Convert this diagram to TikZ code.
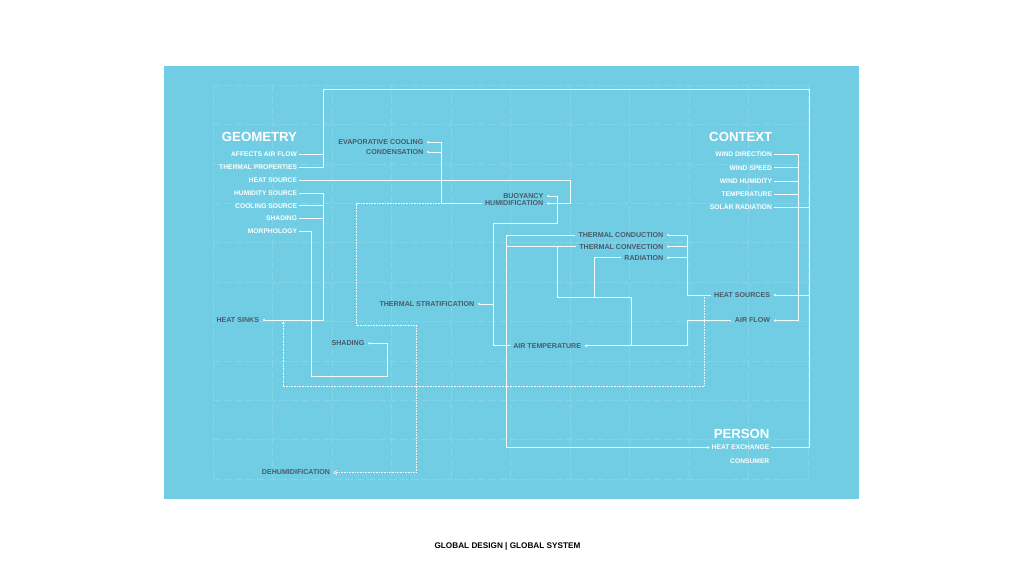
\documentclass[tikz,border=0pt]{standalone}
\usepackage{fontspec}
\setmainfont{Liberation Sans}
\usetikzlibrary{arrows.meta}
\definecolor{bgblue}{HTML}{71CDE3}
\definecolor{darktxt}{HTML}{4A5A6A}
\definecolor{linec}{HTML}{F2FBFD}
\definecolor{gridc}{HTML}{84D4E7}
\tikzset{
  wt/.style={text=white, font=\bfseries\fontsize{6.7}{7}\selectfont, inner sep=0pt, outer sep=2pt, anchor=east},
  dk/.style={text=darktxt, font=\bfseries\fontsize{7.1}{8}\selectfont, inner sep=0pt, outer sep=3.5pt, anchor=east},
  ttl/.style={text=white, font=\bfseries\fontsize{13.2}{14}\selectfont, inner sep=0pt, outer sep=0pt, anchor=east},
  ln/.style={draw=linec, line width=0.8pt},
  arr/.style={ln, -{Stealth[length=2.6pt,width=2.8pt]}},
  dotl/.style={draw=linec, line width=0.7pt, dash pattern=on 0.7pt off 0.9pt},
  gridl/.style={draw=gridc, line width=0.5pt, dash pattern=on 8pt off 3pt},
}
\begin{document}
\begin{tikzpicture}[x=1pt,y=-1pt]
\useasboundingbox (0,0) rectangle (1024,576);
\fill[white] (0,0) rectangle (1024,576);
\fill[bgblue] (164,66) rectangle (859,499);
% grid
\foreach \i in {0,...,10}{
  \draw[gridl] (213+\i*59.5,85) -- (213+\i*59.5,479);
  \draw[gridl] (213,85+\i*39.4) -- (808,85+\i*39.4);
}
% GEOMETRY
\node[ttl] (geo) at (297,137) {GEOMETRY};
\node[wt] (g1) at (299,154.3) {AFFECTS AIR FLOW};
\node[wt] (g2) at (299,167.3) {THERMAL PROPERTIES};
\node[wt] (g3) at (299,180) {HEAT SOURCE};
\node[wt] (g4) at (299,193) {HUMIDITY SOURCE};
\node[wt] (g5) at (299,205.7) {COOLING SOURCE};
\node[wt] (g6) at (299,218.3) {SHADING};
\node[wt] (g7) at (299,231.3) {MORPHOLOGY};
% CONTEXT
\node[ttl] (ctx) at (772.3,137.3) {CONTEXT};
\node[wt] (c1) at (774,154) {WIND DIRECTION};
\node[wt] (c2) at (774,167.7) {WIND SPEED};
\node[wt] (c3) at (774,181) {WIND HUMIDITY};
\node[wt] (c4) at (774,194.5) {TEMPERATURE};
\node[wt] (c5) at (774,207.3) {SOLAR RADIATION};
% PERSON
\node[ttl] (per) at (769.5,434) {PERSON};
\node[wt] (p1) at (771.3,447.5) {HEAT EXCHANGE};
\node[wt] (p2) at (771.3,461) {CONSUMER};
% dark labels
\node[dk] (evap) at (426.8,142.3) {EVAPORATIVE COOLING};
\node[dk] (cond) at (426.8,152) {CONDENSATION};
\node[dk] (buoy) at (546.8,196) {BUOYANCY};
\node[dk] (humid) at (546.8,203.5) {HUMIDIFICATION};
\node[dk] (tcond) at (666.8,235) {THERMAL CONDUCTION};
\node[dk] (tconv) at (666.8,246.7) {THERMAL CONVECTION};
\node[dk] (rad) at (666.8,257.7) {RADIATION};
\node[dk] (strat) at (477.8,304) {THERMAL STRATIFICATION};
\node[dk] (hsrc) at (773.5,295) {HEAT SOURCES};
\node[dk] (aflow) at (773.5,320.5) {AIR FLOW};
\node[dk] (airt) at (584.5,345.7) {AIR TEMPERATURE};
\node[dk] (sinks) at (262.5,320) {HEAT SINKS};
\node[dk] (shad) at (367.8,343.3) {SHADING};
\node[dk] (dehum) at (333.5,472.5) {DEHUMIDIFICATION};
% footer
\node[text=black, font=\bfseries\fontsize{8.2}{9}\selectfont, inner sep=0pt, text height=5.9pt, text depth=0pt] (foot) at (507.5,545.7) {GLOBAL DESIGN | GLOBAL SYSTEM};
% junction coordinates
\coordinate (tl) at (323,89);
\coordinate (tr) at (809,89);
\coordinate (br) at (809,447.5);
% GEOMETRY connectors
\draw[ln] (g1.east) -| (tl) -- (tr) -- (br) -- (p1.east);
\draw[ln] (g2.east) -- (323,167.3) -- (323,154.3);
\draw[arr] (g3.east) -- (570,180) |- (humid.east);
\draw[arr] (g4.east) -| (323,320) -- (sinks.east);
\draw[ln] (g5.east) -- (323,205.7);
\draw[ln] (g6.east) -- (323,218.3);
\draw[arr] (g7.east) -| (311.7,376.7) -| (387.3,343.3) -- (shad.east);
% humidification / evaporative
\draw[arr] (humid.west) -| (441.7,142.3) -- (evap.east);
\draw[arr] (441.7,152) -- (cond.east);
\draw[dotl, -{Straight Barb[length=2.6pt,width=4.5pt]}] (441.7,203.5) -- (356.7,203.5) -- (356.7,325) -- (416,325) -- (416,472.5) -- (dehum.east);
% air temperature to buoyancy / stratification
\draw[arr] (airt.west) -| (493,223.3) -| (557.3,196) -- (buoy.east);
\coordinate (vA) at (493,304);
\draw[arr] (vA) -- (strat.east);
% thermal conduction / convection to person
\draw[arr] (tcond.west) -| (506.7,447.5) -- (p1.west);
\draw[ln] (tconv.west) -- (506.7,246.7);
\draw[ln] (557.3,246.7) |- (631.7,297.3) -- (631.7,345.7);
\draw[ln] (rad.west) -| (594,297.3);
% heat sources
\draw[arr] (809,295) -- (hsrc.east);
\draw[arr] (hsrc.west) -| (687.3,235) -- (tcond.east);
\draw[arr] (687.3,246.7) -- (tconv.east);
\draw[arr] (687.3,257.7) -- (rad.east);
\draw[dotl, -{Stealth[length=2.6pt,width=2.8pt]}] (704.3,295) |- (283.3,386) -- (283.3,321.5);
% air flow
\draw[arr] (aflow.west) -| (687.3,345.7) -- (airt.east);
% CONTEXT connectors
\draw[arr] (c1.east) -| (798,320.5) -- (aflow.east);
\draw[ln] (c2.east) -- (798,167.7);
\draw[ln] (c3.east) -- (798,181);
\draw[ln] (c4.east) -- (798,194.5);
\draw[ln] (c5.east) -- (809,207.3);
\end{tikzpicture}
\end{document}
